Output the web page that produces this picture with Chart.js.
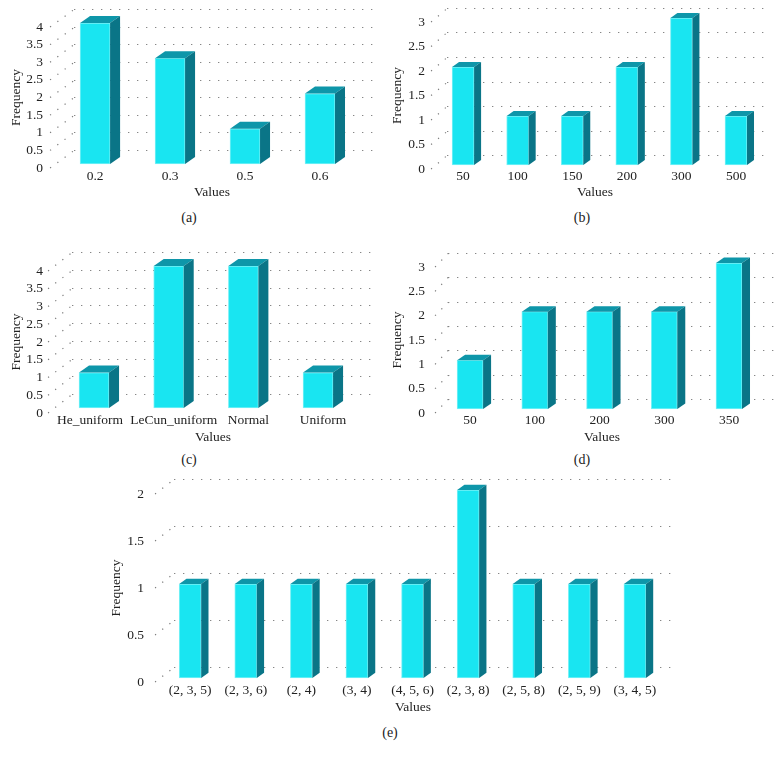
<!DOCTYPE html>
<html lang="en">
<head>
    <meta charset="UTF-8">
    <title>Frequency of hyperparameter values</title>
    <script src="https://cdn.jsdelivr.net/npm/chart.js"></script>
    <style>
        body { margin: 0; background: #fff; }
        #page { position: relative; width: 779px; height: 760px; overflow: hidden; }
        canvas { position: absolute; }
        .caption {
            position: absolute;
            transform: translate(-50%, -50%);
            font: 14px "Liberation Serif", serif;
            color: #222;
        }
    </style>
</head>
<body>
    <div id="page"></div>

    <script>
        // Values
        const catsA = ['0.2', '0.3', '0.5', '0.6'];
        const freqA = [4, 3, 1, 2];
        const catsB = ['50', '100', '150', '200', '300', '500'];
        const freqB = [2, 1, 1, 2, 3, 1];
        const catsC = ['He_uniform', 'LeCun_uniform', 'Normal', 'Uniform'];
        const freqC = [1, 4, 4, 1];
        const catsD = ['50', '100', '200', '300', '350'];
        const freqD = [1, 2, 2, 2, 3];
        const catsE = ['(2, 3, 5)', '(2, 3, 6)', '(2, 4)', '(3, 4)', '(4, 5, 6)', '(2, 3, 8)', '(2, 5, 8)', '(2, 5, 9)', '(3, 4, 5)'];
        const freqE = [1, 1, 1, 1, 1, 2, 1, 1, 1];

        const FONT = 'Liberation Serif';
        const FONT_SIZE = 13.5;
        const FRONT = '#19e5f1';
        const EDGE = '#7af1f6';
        const TOP = '#0e96a9';
        const SIDE = '#0a7587';
        const DOTS = '#7a7a7a';

        // Page layout of each panel, in px
        const panels = [
            { caption: '(a)', capX: 189, capY: 218, cats: catsA, vals: freqA, yMax: 4,
              yTop: 27, yBottom: 168, freqX: 16, titleX: 212, titleY: 192, labelRight: 43, tickY: 175,
              spacing: 75, barsX: 207.5, barW: 30, liftY: 4, depthX: 10, depthY: 7,
              frontX: 50, backX: 74, backY: 18, wallRight: 375 },
            { caption: '(b)', capX: 582, capY: 218, cats: catsB, vals: freqB, yMax: 3,
              yTop: 22, yBottom: 169, freqX: 397, titleX: 595, titleY: 192, labelRight: 425, tickY: 175,
              spacing: 54.6, barsX: 599.5, barW: 22, liftY: 4, depthX: 7, depthY: 5,
              frontX: 431, backX: 447, backY: 14, wallRight: 767 },
            { caption: '(c)', capX: 189, capY: 460, cats: catsC, vals: freqC, yMax: 4,
              yTop: 271, yBottom: 413, freqX: 16, titleX: 213, titleY: 437, labelRight: 43, tickY: 419,
              spacing: 74.7, barsX: 206, barW: 30, liftY: 5, depthX: 10, depthY: 7,
              labelNudge: [-4, 5, 5, 5],
              frontX: 48, backX: 72, backY: 19, wallRight: 373 },
            { caption: '(d)', capX: 582, capY: 460, cats: catsD, vals: freqD, yMax: 3,
              yTop: 267, yBottom: 413, freqX: 397, titleX: 602, titleY: 437, labelRight: 425, tickY: 419,
              spacing: 64.75, barsX: 599.5, barW: 26, liftY: 4, depthX: 8, depthY: 5.5,
              frontX: 435, backX: 448, backY: 14, wallRight: 775 },
            { caption: '(e)', capX: 390, capY: 733, cats: catsE, vals: freqE, yMax: 2,
              yTop: 494, yBottom: 682, freqX: 116, titleX: 413, titleY: 707, labelRight: 144, tickY: 689,
              spacing: 55.6, barsX: 412.5, barW: 22, liftY: 4, depthX: 7.3, depthY: 5.3,
              frontX: 155, backX: 174, backY: 15, wallRight: 677 }
        ];

        // Dotted back wall, then the top and side faces on each bar
        const boxBars = {
            id: 'boxBars',
            beforeDatasetsDraw(chart, args, opts) {
                const { ctx, scales } = chart;
                ctx.save();
                ctx.strokeStyle = DOTS;
                ctx.lineWidth = 1.2;
                ctx.setLineDash([1.2, 7.8]);
                scales.y.ticks.forEach(tick => {
                    const y = scales.y.getPixelForValue(tick.value);
                    const backY = Math.round(y - opts.backY) + 0.5;
                    ctx.beginPath();
                    ctx.moveTo(opts.frontX, y);
                    ctx.lineTo(opts.backX, backY);
                    ctx.stroke();
                    ctx.beginPath();
                    ctx.moveTo(opts.backX, backY);
                    ctx.lineTo(opts.wallRight, backY);
                    ctx.stroke();
                });
                ctx.restore();
                ctx.save();
                ctx.translate(opts.shiftX, -opts.liftY);
            },
            afterDatasetsDraw(chart, args, opts) {
                const { ctx } = chart;
                chart.getDatasetMeta(0).data.forEach(bar => {
                    const right = bar.x + bar.width / 2;
                    const left = bar.x - bar.width / 2;
                    ctx.fillStyle = TOP;
                    ctx.beginPath();
                    ctx.moveTo(left, bar.y);
                    ctx.lineTo(left + opts.depthX, bar.y - opts.depthY);
                    ctx.lineTo(right + opts.depthX, bar.y - opts.depthY);
                    ctx.lineTo(right, bar.y);
                    ctx.closePath();
                    ctx.fill();
                    ctx.fillStyle = SIDE;
                    ctx.beginPath();
                    ctx.moveTo(right, bar.y);
                    ctx.lineTo(right + opts.depthX, bar.y - opts.depthY);
                    ctx.lineTo(right + opts.depthX, bar.base - opts.depthY);
                    ctx.lineTo(right, bar.base);
                    ctx.closePath();
                    ctx.fill();
                });
                ctx.restore();
            }
        };

        function drawPanel(p) {
            const page = document.getElementById('page');
            const canvas = document.createElement('canvas');
            const areaWidth = p.cats.length * p.spacing;
            const areaLeft = p.titleX - areaWidth / 2;
            const left = p.freqX - 8.1;
            const top = p.yTop - 30;
            const right = p.wallRight + 2;
            const bottom = p.titleY + 9;
            canvas.width = right - left;
            canvas.height = bottom - top;
            canvas.style.left = left + 'px';
            canvas.style.top = top + 'px';
            page.appendChild(canvas);

            const shiftX = p.barsX - p.titleX;
            const textFont = { family: FONT, size: FONT_SIZE };
            new Chart(canvas, {
                type: 'bar',
                plugins: [boxBars],
                data: {
                    labels: p.cats,
                    datasets: [{
                        data: p.vals,
                        backgroundColor: FRONT,
                        borderColor: EDGE,
                        borderWidth: 1,
                        borderSkipped: false,
                        barThickness: p.barW,
                        clip: false
                    }]
                },
                options: {
                    responsive: false,
                    animation: false,
                    layout: { padding: { top: 30, right: right - areaLeft - areaWidth, left: 0, bottom: 0 } },
                    plugins: {
                        legend: { display: false },
                        tooltip: { enabled: false },
                        boxBars: { shiftX, liftY: p.liftY, depthX: p.depthX, depthY: p.depthY,
                                   frontX: p.frontX - left, backX: p.backX - left, backY: p.backY,
                                   wallRight: p.wallRight - left }
                    },
                    scales: {
                        x: {
                            grid: { display: false, drawTicks: false },
                            border: { display: false },
                            afterFit: scale => { scale.height = bottom - p.yBottom; },
                            // Panel (c) has its labels set unevenly under the bars
                            afterBuildTicks: scale => {
                                if (!p.labelNudge || scale.nudged) return;
                                const pixelFor = scale.getPixelForTick;
                                scale.getPixelForTick = i => pixelFor.call(scale, i) + p.labelNudge[i];
                                scale.nudged = true;
                            },
                            ticks: {
                                autoSkip: false, maxRotation: 0, minRotation: 0,
                                padding: p.tickY - p.yBottom - 7,
                                labelOffset: shiftX,
                                color: '#222',
                                font: textFont
                            },
                            title: { display: true, text: 'Values', color: '#222', padding: 0, font: textFont }
                        },
                        y: {
                            min: 0,
                            max: p.yMax,
                            grid: { display: false, drawTicks: false },
                            border: { display: false },
                            afterFit: scale => { scale.width = areaLeft - left; },
                            ticks: {
                                stepSize: 0.5,
                                autoSkip: false,
                                padding: areaLeft - p.labelRight,
                                color: '#222',
                                font: textFont,
                                callback: value => String(value)
                            },
                            title: { display: true, text: 'Frequency', color: '#222', padding: 0, font: textFont }
                        }
                    }
                }
            });

            const cap = document.createElement('div');
            cap.className = 'caption';
            cap.textContent = p.caption;
            cap.style.left = p.capX + 'px';
            cap.style.top = p.capY + 'px';
            page.appendChild(cap);
        }

        panels.forEach(drawPanel);
    </script>
</body>
</html>
